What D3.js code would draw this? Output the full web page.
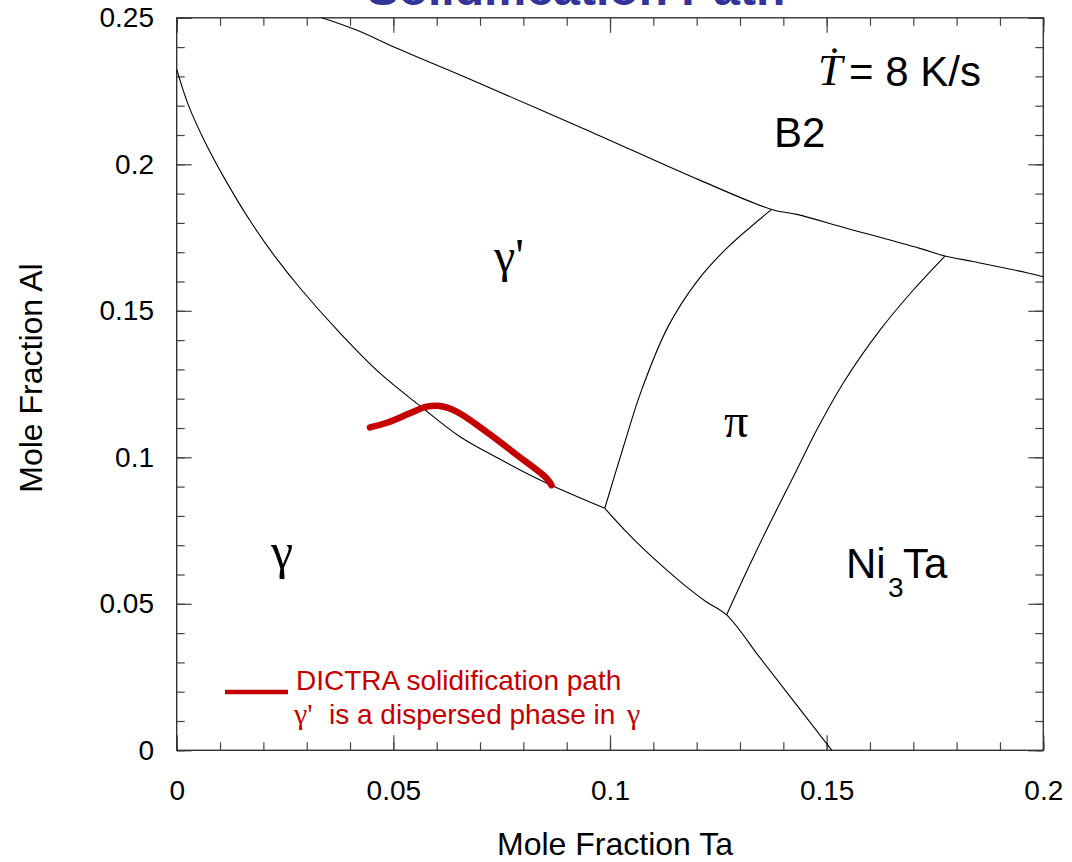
<!DOCTYPE html>
<html>
<head>
<meta charset="utf-8">
<script src="https://cdn.jsdelivr.net/npm/d3@7"></script>
<style>
  body { margin: 0; background: #fff; }
  svg { display: block; }
</style>
</head>
<body>
<svg id="chart" width="1072" height="862"></svg>
<script>
// Liquidus projection of the Ni-rich corner (x: mole fraction Ta, y: mole fraction Al)
const gammaGammaPrime = [
  [0.0000, 0.2324], [0.0027, 0.2202], [0.0065, 0.2077], [0.0108, 0.1958],
  [0.0169, 0.1808], [0.0227, 0.1685], [0.0285, 0.1577], [0.0377, 0.1424],
  [0.0469, 0.1287], [0.0562, 0.1175], [0.0654, 0.1070], [0.0739, 0.0999],
  [0.0823, 0.0934], [0.0905, 0.0878], [0.0988, 0.0826]
];
const gammaNi3Ta = [
  [0.0988, 0.0826], [0.1035, 0.0750], [0.1081, 0.0682], [0.1128, 0.0619],
  [0.1174, 0.0561], [0.1221, 0.0508], [0.1269, 0.0462], [0.1346, 0.0316],
  [0.1427, 0.0162], [0.1512, 0.0000]
];
const gammaPrimePi = [
  [0.0988, 0.0826], [0.1031, 0.1036], [0.1073, 0.1230], [0.1134, 0.1446],
  [0.1200, 0.1599], [0.1269, 0.1713], [0.1373, 0.1846]
];
const b2Boundary = [
  [0.0335, 0.2500], [0.0415, 0.2458], [0.0508, 0.2396], [0.0677, 0.2290],
  [0.0942, 0.2120], [0.1207, 0.1946], [0.1373, 0.1846], [0.1431, 0.1829],
  [0.1546, 0.1782], [0.1715, 0.1713], [0.1773, 0.1687], [0.1838, 0.1668],
  [0.1962, 0.1630], [0.2000, 0.1616]
];
const piNi3Ta = [
  [0.1269, 0.0462], [0.1318, 0.0619], [0.1369, 0.0775], [0.1431, 0.0957],
  [0.1477, 0.1093], [0.1538, 0.1253], [0.1623, 0.1434], [0.1700, 0.1571],
  [0.1773, 0.1687]
];
// DICTRA solidification path
const dictraPath = [
  [0.0446, 0.1102], [0.0485, 0.1118], [0.0538, 0.1150], [0.0577, 0.1173],
  [0.0608, 0.1175], [0.0646, 0.1156], [0.0715, 0.1087], [0.0785, 0.1008],
  [0.0854, 0.0928], [0.0865, 0.0905]
];

const xTicks = [0, 0.05, 0.1, 0.15, 0.2];
const xTickLabels = ["0", "0.05", "0.1", "0.15", "0.2"];
const yTicks = [0, 0.05, 0.1, 0.15, 0.2, 0.25];
const yTickLabels = ["0", "0.05", "0.1", "0.15", "0.2", "0.25"];
const xMinor = d3.range(0, 21).map(i => i / 100);
const yMinor = d3.range(0, 26).map(i => i / 100);

const svg = d3.select("#chart");
const W = 1072, H = 862;
const margin = { left: 176.7, top: 17.8, right: W - 1043.3, bottom: H - 750.3 };
const iw = W - margin.left - margin.right;
const ih = H - margin.top - margin.bottom;

const x = d3.scaleLinear().domain([0, 0.2]).range([0, iw]);
const y = d3.scaleLinear().domain([0, 0.25]).range([ih, 0]);

const sans = "Arial, 'Liberation Sans', sans-serif";
const serif = "'Times New Roman', 'Liberation Serif', serif";

// Title (sits mostly above the top edge of the page)
svg.append("text")
  .attr("x", 576).attr("y", 5)
  .attr("text-anchor", "middle")
  .attr("font-family", sans).attr("font-weight", "bold")
  .attr("font-size", 48).attr("fill", "#33339a")
  .text("Solidification Path");

const g = svg.append("g").attr("transform", `translate(${margin.left},${margin.top})`);

// Minor and major ticks on all four sides, pointing inward
function tickAxis(axisFn, scale, values, size) {
  return axisFn(scale).tickValues(values).tickSize(size).tickSizeOuter(0).tickFormat("");
}
const tickColor = "#444";
const axes = [
  [g.append("g").attr("transform", `translate(0,${ih})`), d3.axisBottom, x, xMinor, xTicks],
  [g.append("g"), d3.axisTop, x, xMinor, xTicks],
  [g.append("g"), d3.axisLeft, y, yMinor, yTicks],
  [g.append("g").attr("transform", `translate(${iw},0)`), d3.axisRight, y, yMinor, yTicks]
];
axes.forEach(([sel, fn, sc, minor, major]) => {
  sel.append("g").call(tickAxis(fn, sc, minor, -8));
  sel.append("g").call(tickAxis(fn, sc, major, -15));
  sel.selectAll(".domain").remove();
  sel.selectAll("line").attr("stroke", tickColor).attr("stroke-width", 1.2);
});

// Tick labels
const xLab = d3.axisBottom(x).tickValues(xTicks).tickSize(0).tickPadding(30)
  .tickFormat((d, i) => xTickLabels[i]);
const xl = g.append("g").attr("transform", `translate(0,${ih})`).call(xLab);
xl.select(".domain").remove();
xl.selectAll("text").attr("font-family", sans).attr("font-size", 28).attr("fill", "#000");

const yLab = d3.axisLeft(y).tickValues(yTicks).tickSize(0).tickPadding(22.7)
  .tickFormat((d, i) => yTickLabels[i]);
const yl = g.append("g").call(yLab);
yl.select(".domain").remove();
yl.selectAll("text").attr("font-family", sans).attr("font-size", 28).attr("fill", "#000");

// Frame
g.append("rect").attr("width", iw).attr("height", ih)
  .attr("fill", "none").attr("stroke", "#333").attr("stroke-width", 1.4);

// Axis titles
svg.append("text")
  .attr("x", 615).attr("y", 855)
  .attr("text-anchor", "middle")
  .attr("font-family", sans).attr("font-size", 32)
  .text("Mole Fraction Ta");
svg.append("text")
  .attr("transform", "translate(42,378) rotate(-90)")
  .attr("text-anchor", "middle")
  .attr("font-family", sans).attr("font-size", 32)
  .text("Mole Fraction Al");

// Phase boundaries
const line = d3.line().x(d => x(d[0])).y(d => y(d[1])).curve(d3.curveCatmullRom.alpha(0.5));
[gammaGammaPrime, gammaNi3Ta, gammaPrimePi, b2Boundary, piNi3Ta].forEach(pts => {
  g.append("path").attr("d", line(pts))
    .attr("fill", "none").attr("stroke", "#000").attr("stroke-width", 1.1);
});

// Solidification path
const red = "#c40000";
g.append("path").attr("d", line(dictraPath))
  .attr("fill", "none").attr("stroke", red).attr("stroke-width", 6.5)
  .attr("stroke-linecap", "round").attr("stroke-linejoin", "round");

// Phase region labels
function label(txt, px, py, family, size, style) {
  return svg.append("text").attr("x", px).attr("y", py)
    .attr("font-family", family).attr("font-size", size)
    .attr("font-style", style || "normal").text(txt);
}
label("\u03B3'", 494, 272, serif, 48);
label("\u03B3", 271, 568, serif, 50);
label("\u03C0", 724, 437, serif, 48);
label("B2", 774, 147, sans, 42);
label("Ni", 846, 578, sans, 42);
label("3", 888, 597, sans, 28);
label("Ta", 903, 578, sans, 42);

// Cooling rate annotation
label("\u1E6A", 818, 85, serif, 44, "italic");
label("= 8 K/s", 849, 86, sans, 42);

// Legend
svg.append("line").attr("x1", 225).attr("x2", 288).attr("y1", 692).attr("y2", 692)
  .attr("stroke", red).attr("stroke-width", 4.5);
label("DICTRA solidification path", 296, 690, sans, 28).attr("fill", red);
label("\u03B3'", 294, 724, serif, 30).attr("fill", red);
label("is a dispersed phase in", 329, 724, sans, 28).attr("fill", red);
label("\u03B3", 627, 724, serif, 30).attr("fill", red);
</script>
</body>
</html>
